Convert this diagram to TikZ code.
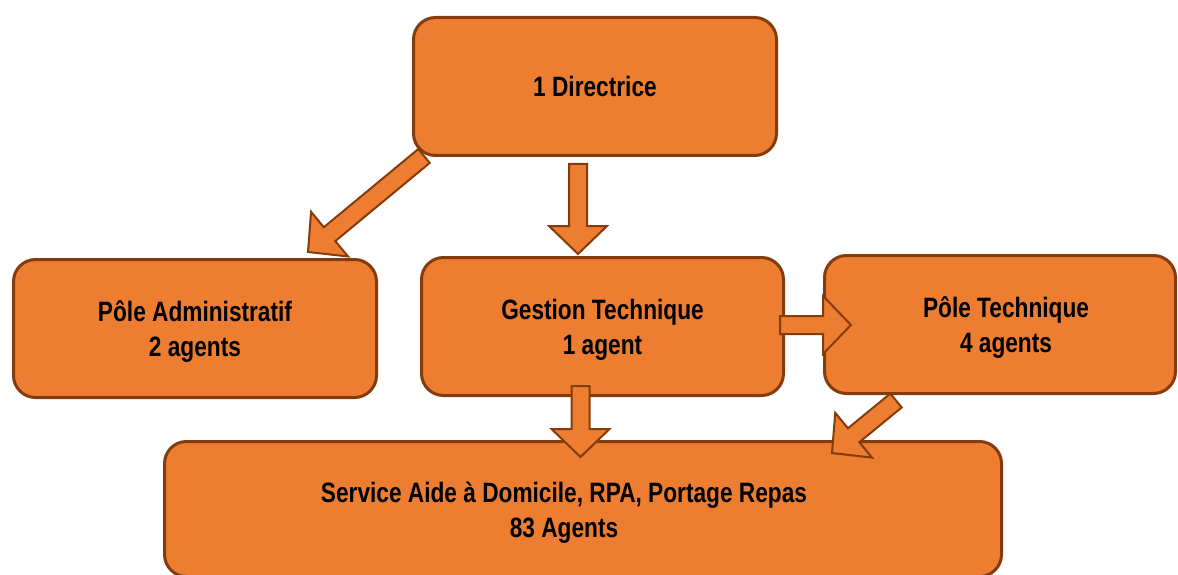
\documentclass[tikz,border=0pt]{standalone}
\usepackage{fontspec}
\setmainfont{Liberation Sans}[FakeStretch=0.81]
\usepackage{tikz}
\usetikzlibrary{calc}
\definecolor{boxfill}{HTML}{ED7D31}
\definecolor{boxline}{HTML}{843C0C}
\tikzset{
	box node/.style={rectangle,rounded corners=22pt,draw=boxline,fill=boxfill,line width=3pt,
		minimum height=138pt,align=center,font=\fontsize{28}{35}\selectfont\bfseries},
	box text/.style={align=center,yshift=-3.5pt,font=\fontsize{28}{35}\selectfont\bfseries},
	block arrow/.style={draw=boxline,fill=boxfill,line width=2pt,line join=miter}
}
\newcommand{\blockarrow}[2]{%
	\path ($(#2)!28pt!(#1)$) coordinate (hb);
	\draw[block arrow] ($(#1)!9pt!-90:(#2)$) -- ($(hb)!9pt!90:(#1)$) -- ($(hb)!29pt!90:(#1)$)
		-- (#2) -- ($(hb)!29pt!-90:(#1)$) -- ($(hb)!9pt!-90:(#1)$) -- ($(#1)!9pt!90:(#2)$) -- cycle;
}

\begin{document}
\begin{tikzpicture}[x=1pt,y=-1pt]
	\useasboundingbox (0,0) rectangle (1178,575);
	\node [box node,minimum width=363pt] (dir) at (595,86.5) {1 Directrice};
	\node [box node,minimum width=363pt,label={[box text]center:P\^ole Administratif\\2 agents}] (adm) at (195,328.5) {};
	\node [box node,minimum width=362pt,label={[box text]center:Gestion Technique\\1 agent}] (ges) at (602.5,326.5) {};
	\node [box node,minimum width=351pt,label={[box text,xshift=6pt]center:P\^ole Technique\\4 agents}] (pt) at (1000,324.5) {};
	\node [box node,minimum width=837pt,minimum height=135pt,label={[box text,xshift=-19pt]center:Service Aide \`a Domicile, RPA, Portage Repas\\83 Agents}] (svc) at (583,509) {};
	\coordinate (dirA) at (424,156);
	\coordinate (admT) at (308,252);
	\coordinate (dirB) at (578,164);
	\coordinate (gesT) at (578,254);
	\coordinate (gesA) at (780,325);
	\coordinate (ptT) at (851,325);
	\coordinate (gesB) at (580.5,386);
	\coordinate (svcT) at (580.5,457);
	\coordinate (ptA) at (896,400.5);
	\coordinate (svcU) at (832,453);
	\blockarrow{dirA}{admT}
	\blockarrow{dirB}{gesT}
	\blockarrow{gesA}{ptT}
	\blockarrow{gesB}{svcT}
	\blockarrow{ptA}{svcU}
\end{tikzpicture}
\end{document}
